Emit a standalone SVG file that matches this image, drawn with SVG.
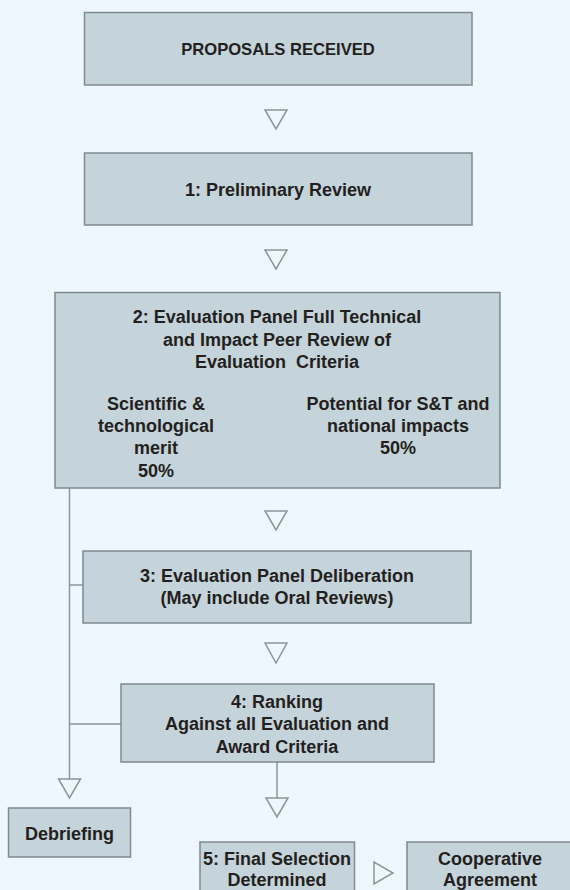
<svg xmlns="http://www.w3.org/2000/svg" width="570" height="890" viewBox="0 0 570 890">
<style>
.box{fill:#C5D3DA;stroke:#7E8A8E;stroke-width:1.5}
.t{font-family:"Liberation Sans",Arial,sans-serif;font-weight:bold;font-size:18px;fill:#231F20;text-anchor:middle}
.conn line{stroke:#8A969A;stroke-width:1.5;fill:none}
.tri{fill:#EFF7FE;stroke:#8A969A;stroke-width:1.5;stroke-linejoin:miter}
</style>
<rect x="0" y="0" width="570" height="890" fill="#EFF7FE"/>
<g id="connectors" class="conn">
<line x1="69.5" y1="488" x2="69.5" y2="779"/>
<line x1="69.5" y1="585" x2="83" y2="585"/>
<line x1="69.5" y1="724" x2="121" y2="724"/>
<line x1="277" y1="762" x2="277" y2="798"/>
<polygon class="tri" points="265,110 287,110 276,129"/>
<polygon class="tri" points="265,250 287,250 276,269"/>
<polygon class="tri" points="265,511 287,511 276,530"/>
<polygon class="tri" points="265,643 287,643 276,663"/>
<polygon class="tri" points="58.5,779 80.5,779 69.5,798"/>
<polygon class="tri" points="266,798 288,798 277,817"/>
<polygon class="tri" points="374,862 374,884 393,873"/>
</g>
<g id="proposals">
<rect class="box" x="84.5" y="12.5" width="387.5" height="72.5"/>
<text class="t" x="278" y="55" style="font-size:16.6px">PROPOSALS RECEIVED</text>
</g>
<g id="step1">
<rect class="box" x="84.5" y="153" width="387.5" height="72"/>
<text class="t" x="278" y="196">1: Preliminary Review</text>
</g>
<g id="step2">
<rect class="box" x="55" y="292.5" width="445" height="195.5"/>
<text class="t" x="277" y="323">2: Evaluation Panel Full Technical</text>
<text class="t" x="277" y="346">and Impact Peer Review of</text>
<text class="t" x="277" y="368" xml:space="preserve">Evaluation  Criteria</text>
<text class="t" x="156" y="410">Scientific &amp;</text>
<text class="t" x="156" y="432">technological</text>
<text class="t" x="156" y="454">merit</text>
<text class="t" x="156" y="477">50%</text>
<text class="t" x="398" y="410">Potential for S&amp;T and</text>
<text class="t" x="398" y="432">national impacts</text>
<text class="t" x="398" y="454">50%</text>
</g>
<g id="step3">
<rect class="box" x="83" y="551" width="388" height="72"/>
<text class="t" x="277" y="582">3: Evaluation Panel Deliberation</text>
<text class="t" x="277" y="604">(May include Oral Reviews)</text>
</g>
<g id="step4">
<rect class="box" x="121" y="684" width="313" height="78"/>
<text class="t" x="277" y="708">4: Ranking</text>
<text class="t" x="277" y="730">Against all Evaluation and</text>
<text class="t" x="277" y="753">Award Criteria</text>
</g>
<g id="debriefing">
<rect class="box" x="8.5" y="808" width="122" height="49"/>
<text class="t" x="69.5" y="840">Debriefing</text>
</g>
<g id="step5">
<rect class="box" x="200" y="842" width="154.5" height="60"/>
<text class="t" x="277" y="865">5: Final Selection</text>
<text class="t" x="277" y="886">Determined</text>
</g>
<g id="cooperative">
<rect class="box" x="407" y="842" width="170" height="60"/>
<text class="t" x="490" y="865">Cooperative</text>
<text class="t" x="490" y="886">Agreement</text>
</g>
</svg>
